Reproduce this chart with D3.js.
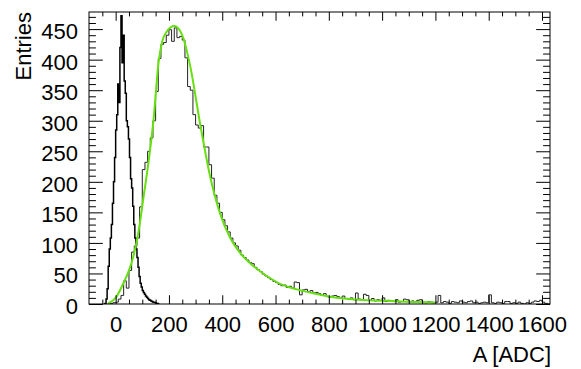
<!DOCTYPE html>
<html>
<head>
<meta charset="utf-8">
<script src="https://cdn.jsdelivr.net/npm/d3@7"></script>
<style>
  body { margin: 0; background: #fff; }
  svg { display: block; font-family: "Liberation Sans", Arial, sans-serif; }
  .axis text { font-size: 22px; fill: #000; }
  .axis line { stroke: #000; }
</style>
</head>
<body>
<div class="graph"></div>
<script>
// pedestal histogram, 4 ADC bins starting at -44
var pedStart = -44, pedWidth = 4;
var pedCounts = [0, 1, 8, 25, 62, 90, 108, 130, 165, 200,
                 240, 285, 310, 360, 330, 420, 472, 395, 440, 365,
                 345, 300, 290, 270, 240, 205, 190, 160, 130, 108,
                 90, 76, 60, 45, 34, 28, 22, 19, 16, 13,
                 11, 9, 7, 6, 5, 4, 3, 3, 2, 1, 1, 0];

// signal histogram, 10 ADC bins starting at -30
var sigStart = -30, sigWidth = 10;
var sigCounts = [0, 1, 2, 3, 8, 14, 38, 26, 55, 85,
                 95, 108, 159, 220, 232, 250, 272, 300, 348, 402,
                 425, 428, 440, 449, 430, 452, 436, 438, 432, 403,
                 356, 350, 310, 293, 288, 292, 257, 257, 228, 206,
                 178, 165, 150, 138, 128, 118, 108, 100, 95, 88,
                 80, 76, 72, 68, 66, 60, 56, 53, 49, 46,
                 43, 40, 37, 35, 32, 30, 31, 27, 29, 26,
                 36, 35, 15, 23, 24, 20, 22, 18, 19, 17,
                 14, 17, 12, 11, 13, 14, 12, 10, 13, 9,
                 8, 10, 7, 18, 8, 7, 16, 14, 6, 9,
                 5, 7, 6, 10, 4, 6, 5, 4, 7, 3,
                 4, 8, 7, 3, 5, 4, 6, 7, 3, 2,
                 4, 3, 2, 3, 14, 2, 4, 3, 1, 4,
                 3, 2, 5, 3, 2, 4, 5, 2, 3, 1,
                 2, 3, 2, 15, 2, 1, 3, 2, 1, 4,
                 4, 1, 2, 1, 3, 1, 0, 2, 1, 3,
                 5, 4, 6, 3, 1, 0];

// fit curve
var fitX = [-28, 0, 29, 50, 66, 85, 105, 123, 142, 161, 175, 192, 220, 249, 280, 317, 355, 392,
            430, 470, 520, 570, 617, 680, 741, 805, 868, 930, 992, 1055, 1117, 1180, 1200];
var fitY = [1, 10, 34, 55, 77, 116, 176, 231, 301, 395, 430, 446, 455, 441, 389, 295, 208, 148,
            108, 82, 61, 45, 33, 24, 17.5, 12, 8.7, 6.5, 5.5, 4.4, 3.3, 2.7, 2.5];

var xMajor = [0, 200, 400, 600, 800, 1000, 1200, 1400, 1600];
var yMajor = [0, 50, 100, 150, 200, 250, 300, 350, 400, 450];

var width = 581, height = 369;
var frame = {left: 89, right: 550, top: 12, bottom: 304};

var x = d3.scaleLinear().domain([-100, 1630]).range([frame.left, frame.right]);
var y = d3.scaleLinear().domain([0, 478]).range([frame.bottom, frame.top]);

var xMinor = d3.range(-50, 1630, 50).filter(function(d) { return d % 200 !== 0; });
var yMinor = d3.range(0, 478, 10).filter(function(d) { return d % 50 !== 0; });

var svg = d3.select(".graph").append("svg")
    .attr("width", width)
    .attr("height", height);

svg.append("defs").append("clipPath").attr("id", "clip")
  .append("rect")
    .attr("x", frame.left).attr("y", frame.top)
    .attr("width", frame.right - frame.left)
    .attr("height", frame.bottom - frame.top);

function histPoints(start, w, counts) {
  var pts = [[start, 0]];
  counts.forEach(function(c, i) { pts.push([start + i * w, c]); });
  pts.push([start + counts.length * w, counts[counts.length - 1]]);
  pts.push([start + counts.length * w, 0]);
  return pts;
}

var step = d3.line()
    .x(function(d) { return x(d[0]); })
    .y(function(d) { return y(d[1]); })
    .curve(d3.curveStepAfter);

var plot = svg.append("g").attr("clip-path", "url(#clip)");

plot.append("path")
    .datum(histPoints(sigStart, sigWidth, sigCounts))
    .attr("fill", "none")
    .attr("stroke", "#222")
    .attr("stroke-width", 1)
    .attr("d", step);

plot.append("path")
    .datum(histPoints(pedStart, pedWidth, pedCounts))
    .attr("fill", "none")
    .attr("stroke", "#000")
    .attr("stroke-width", 1.5)
    .attr("d", step);

var fitLine = d3.line()
    .x(function(d, i) { return x(fitX[i]); })
    .y(function(d) { return y(d); })
    .curve(d3.curveMonotoneX);

plot.append("path")
    .datum(fitY)
    .attr("fill", "none")
    .attr("stroke", "#66e010")
    .attr("stroke-width", 2)
    .attr("d", fitLine);

// axes, ticks pointing inside the frame on all four sides
var xTick = 0.03 * (frame.bottom - frame.top);
var yTick = 0.03 * (frame.right - frame.left);
var fmt = d3.format("d");

svg.append("g").attr("class", "axis")
    .attr("transform", "translate(0," + frame.bottom + ")")
    .call(d3.axisBottom(x).tickValues(xMajor).tickSize(-xTick).tickPadding(12).tickFormat(fmt))
    .call(function(g) { g.select(".domain").remove(); });

svg.append("g").attr("class", "axis")
    .attr("transform", "translate(0," + frame.bottom + ")")
    .call(d3.axisBottom(x).tickValues(xMinor).tickSize(-xTick / 2).tickFormat(""))
    .call(function(g) { g.select(".domain").remove(); });

svg.append("g").attr("class", "axis")
    .attr("transform", "translate(0," + frame.top + ")")
    .call(d3.axisTop(x).tickValues(xMajor).tickSize(-xTick).tickFormat(""))
    .call(function(g) { g.select(".domain").remove(); });

svg.append("g").attr("class", "axis")
    .attr("transform", "translate(0," + frame.top + ")")
    .call(d3.axisTop(x).tickValues(xMinor).tickSize(-xTick / 2).tickFormat(""))
    .call(function(g) { g.select(".domain").remove(); });

svg.append("g").attr("class", "axis")
    .attr("transform", "translate(" + frame.left + ",0)")
    .call(d3.axisLeft(y).tickValues(yMajor).tickSize(-yTick).tickPadding(11).tickFormat(fmt))
    .call(function(g) { g.select(".domain").remove(); })
    .selectAll("text").attr("dy", "0.43em");

svg.append("g").attr("class", "axis")
    .attr("transform", "translate(" + frame.left + ",0)")
    .call(d3.axisLeft(y).tickValues(yMinor).tickSize(-yTick / 2).tickFormat(""))
    .call(function(g) { g.select(".domain").remove(); });

svg.append("g").attr("class", "axis")
    .attr("transform", "translate(" + frame.right + ",0)")
    .call(d3.axisRight(y).tickValues(yMajor).tickSize(-yTick).tickFormat(""))
    .call(function(g) { g.select(".domain").remove(); });

svg.append("g").attr("class", "axis")
    .attr("transform", "translate(" + frame.right + ",0)")
    .call(d3.axisRight(y).tickValues(yMinor).tickSize(-yTick / 2).tickFormat(""))
    .call(function(g) { g.select(".domain").remove(); });

// frame
svg.append("rect")
    .attr("x", frame.left).attr("y", frame.top)
    .attr("width", frame.right - frame.left)
    .attr("height", frame.bottom - frame.top)
    .attr("fill", "none")
    .attr("stroke", "#000")
    .attr("stroke-width", 1);

// axis titles
svg.append("text")
    .attr("x", frame.right + 1)
    .attr("y", 362)
    .attr("text-anchor", "end")
    .style("font-size", "22px")
    .text("A [ADC]");

svg.append("text")
    .attr("transform", "translate(31," + frame.top + ") rotate(-90)")
    .attr("text-anchor", "end")
    .style("font-size", "22px")
    .text("Entries");
</script>
</body>
</html>
